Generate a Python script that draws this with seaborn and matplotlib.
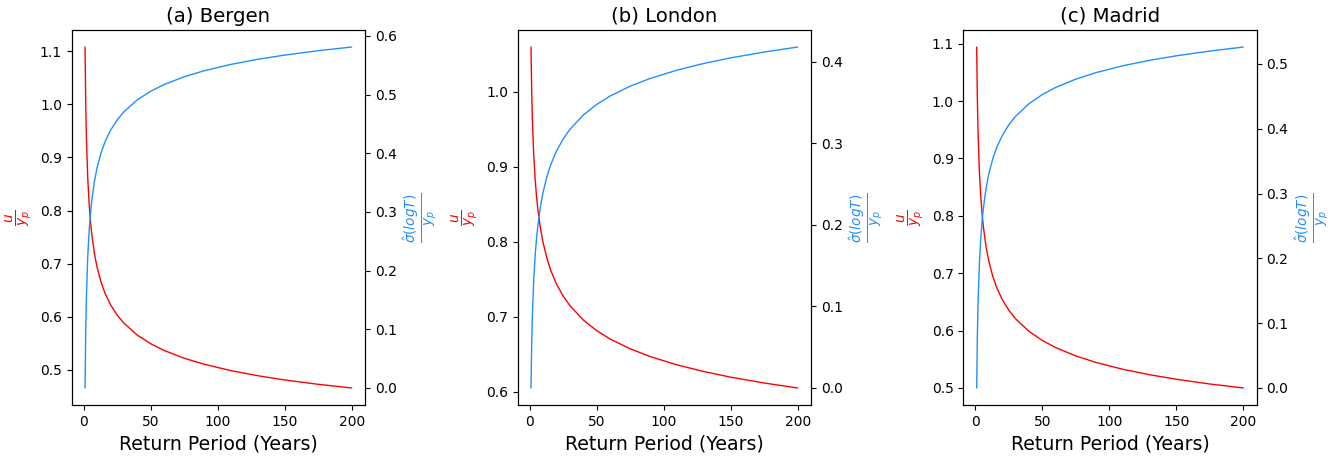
import matplotlib
matplotlib.use("Agg")
import matplotlib.pyplot as plt
import seaborn as sns
import pandas as pd

# Return periods (years)
T = [1, 1.5, 2, 3, 4, 5, 6, 8, 10, 13, 16, 20, 25, 30, 40, 50, 60, 75, 90, 110, 130, 150, 175, 200]

# (a) Bergen
bergen_u = [1.108, 1.0023, 0.9388, 0.8618, 0.8144, 0.7811, 0.7558, 0.7191, 0.6930, 0.6647, 0.6438, 0.6228,
            0.6031, 0.5880, 0.5655, 0.5493, 0.5366, 0.5220, 0.5106, 0.4986, 0.4890, 0.4811, 0.4729, 0.4660]
bergen_s = [0.0, 0.0956, 0.1531, 0.2228, 0.2657, 0.2958, 0.3187, 0.3519, 0.3755, 0.4011, 0.4200, 0.4390,
            0.4568, 0.4706, 0.4909, 0.5056, 0.5170, 0.5303, 0.5406, 0.5514, 0.5601, 0.5672, 0.5747, 0.5809]
# (b) London
london_u = [1.0593, 1.0017, 0.9646, 0.9166, 0.8854, 0.8626, 0.8448, 0.8182, 0.7987, 0.7769, 0.7605, 0.7436,
            0.7274, 0.7148, 0.6956, 0.6815, 0.6703, 0.6572, 0.6468, 0.6358, 0.6269, 0.6194, 0.6116, 0.6050]
london_s = [0.0, 0.0530, 0.0872, 0.1313, 0.1600, 0.1810, 0.1974, 0.2218, 0.2398, 0.2598, 0.2749, 0.2905,
            0.3053, 0.3170, 0.3346, 0.3476, 0.3579, 0.3700, 0.3795, 0.3897, 0.3979, 0.4047, 0.4119, 0.4180]
# (c) Madrid
madrid_u = [1.0941, 1.0029, 0.9469, 0.8778, 0.8346, 0.8039, 0.7804, 0.7461, 0.7215, 0.6945, 0.6746, 0.6544,
            0.6354, 0.6206, 0.5987, 0.5828, 0.5703, 0.5558, 0.5445, 0.5326, 0.5231, 0.5152, 0.5069, 0.5000]
madrid_s = [0.0, 0.0808, 0.1303, 0.1915, 0.2298, 0.2570, 0.2777, 0.3081, 0.3299, 0.3538, 0.3715, 0.3893,
            0.4062, 0.4192, 0.4386, 0.4528, 0.4638, 0.4766, 0.4866, 0.4972, 0.5056, 0.5126, 0.5199, 0.5261]

titles = ["(a) Bergen", "(b) London", "(c) Madrid"]
series_u = [bergen_u, london_u, madrid_u]
series_s = [bergen_s, london_s, madrid_s]

sns.set_style("ticks")
plt.rcParams['font.family'] = ['DejaVu Sans']
plt.rcParams.update({
    "text.color": "black", "axes.labelcolor": "black",
    "xtick.color": "black", "ytick.color": "black",
    "axes.edgecolor": "black",
})

fig = plt.figure(figsize=(13.38, 4.58), dpi=100)
lefts = [0.0536, 0.3869, 0.7200]
width, bottom, height = 0.2192, 0.1157, 0.8188

for left, title, u, s in zip(lefts, titles, series_u, series_s):
    ax = fig.add_axes([left, bottom, width, height])
    df = pd.DataFrame({"T": T, "u": u, "s": s})
    sns.lineplot(data=df, x="T", y="u", ax=ax, color="red", linewidth=1.0, estimator=None)
    ax.set_xticks([0, 50, 100, 150, 200])
    ax.set_ylabel(r"$\frac{u}{y_p}$", color="red", fontsize=14)
    ax.set_title(title, fontsize=14.2)
    ax2 = ax.twinx()
    sns.lineplot(data=df, x="T", y="s", ax=ax2, color="dodgerblue", linewidth=1.0, estimator=None)
    ax2.set_ylabel(r"$\frac{\hat{\sigma}(log T)}{y_p}$", color="dodgerblue", fontsize=14)
    ax2.set_xlabel("")
    for a in (ax, ax2):
        a.tick_params(labelsize=10, colors="black")
        for sp in a.spines.values():
            sp.set_visible(True)
            sp.set_color("black")
            sp.set_linewidth(0.8)
    ax.set_xlabel("Return Period (Years)", fontsize=13.6)

fig.savefig("out.png", dpi=100)
